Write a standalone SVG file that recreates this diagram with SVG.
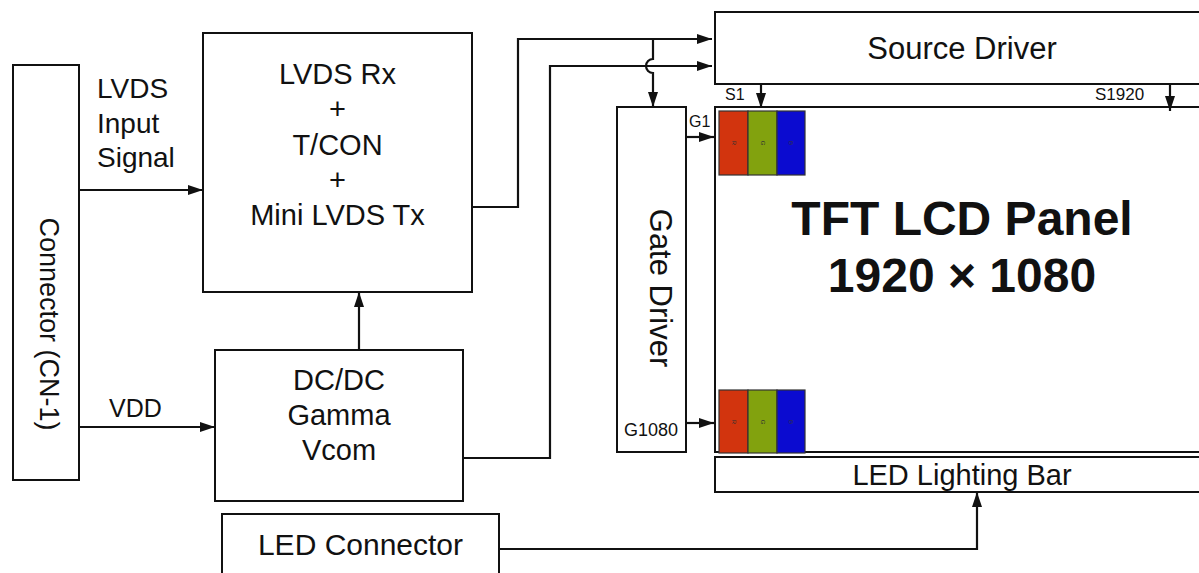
<svg xmlns="http://www.w3.org/2000/svg" width="1199" height="573" viewBox="0 0 1199 573">
<style>
.box{fill:#fff;stroke:#111;stroke-width:2}
.ln{fill:none;stroke:#111;stroke-width:2.2}
.t{font-family:"Liberation Sans",Arial,sans-serif;fill:#111}
.c{text-anchor:middle}
.px{stroke:#333;stroke-width:1.2}
.pt{font-family:"Liberation Sans",Arial,sans-serif;font-size:6px;fill:#333;text-anchor:middle}
</style>
<defs>
<marker id="ah" markerUnits="userSpaceOnUse" markerWidth="15" markerHeight="10" refX="15" refY="5" orient="auto">
<path d="M0,0 L15,5 L0,10 z" fill="#111"/>
</marker>
</defs>
<rect width="1199" height="573" fill="#fff"/>

<g id="connector">
<rect class="box" x="13" y="65" width="66" height="415"/>
<text class="t c" font-size="27" transform="translate(40,324) rotate(90)">Connector (CN-1)</text>
</g>

<g id="lvds-rx">
<rect class="box" x="203" y="33" width="269" height="259"/>
<text class="t c" font-size="29" x="337.5" y="84">LVDS Rx</text>
<text class="t c" font-size="29" x="337.5" y="119.3">+</text>
<text class="t c" font-size="29" x="337.5" y="154.5">T/CON</text>
<text class="t c" font-size="29" x="337.5" y="189.8">+</text>
<text class="t c" font-size="29" x="337.5" y="225">Mini LVDS Tx</text>
</g>

<g id="dcdc">
<rect class="box" x="215" y="350" width="248" height="151"/>
<text class="t c" font-size="29" x="339" y="390">DC/DC</text>
<text class="t c" font-size="29" x="339" y="425">Gamma</text>
<text class="t c" font-size="29" x="339" y="460">Vcom</text>
</g>

<g id="led-connector">
<rect class="box" x="222" y="514" width="277" height="80"/>
<text class="t c" font-size="30" x="360.5" y="555">LED Connector</text>
</g>

<g id="source-driver">
<rect class="box" x="715" y="12" width="500" height="72"/>
<text class="t c" font-size="31" x="962" y="59">Source Driver</text>
</g>

<g id="gate-driver">
<rect class="box" x="617" y="107" width="69" height="345"/>
<text class="t c" font-size="31" transform="translate(650,288) rotate(90)">Gate Driver</text>
</g>

<g id="panel">
<rect class="box" x="715" y="107" width="500" height="345"/>
<text class="t c" font-size="48" font-weight="bold" x="962" y="235">TFT LCD Panel</text>
<text class="t c" font-size="48" font-weight="bold" x="962" y="292">1920 × 1080</text>
<g id="pixels-top">
<rect class="px" x="719" y="111" width="29" height="64" fill="#d2340e"/>
<rect class="px" x="748" y="111" width="29" height="64" fill="#82a20e"/>
<rect class="px" x="777" y="111" width="28" height="64" fill="#0b0bd0"/>
<text class="pt" transform="translate(732,143) rotate(90)">R</text>
<text class="pt" transform="translate(761,143) rotate(90)">G</text>
<text class="pt" transform="translate(789,143) rotate(90)">B</text>
</g>
<g id="pixels-bottom">
<rect class="px" x="719" y="390" width="29" height="63" fill="#d2340e"/>
<rect class="px" x="748" y="390" width="29" height="63" fill="#82a20e"/>
<rect class="px" x="777" y="390" width="28" height="63" fill="#0b0bd0"/>
<text class="pt" transform="translate(732,422) rotate(90)">R</text>
<text class="pt" transform="translate(761,422) rotate(90)">G</text>
<text class="pt" transform="translate(789,422) rotate(90)">B</text>
</g>
</g>

<g id="led-bar">
<rect class="box" x="715" y="457" width="500" height="35"/>
<text class="t c" font-size="29" x="962" y="485">LED Lighting Bar</text>
</g>

<g id="connectors">
<path class="ln" d="M79,190 H203" marker-end="url(#ah)"/>
<path class="ln" d="M79,427 H215" marker-end="url(#ah)"/>
<path class="ln" d="M359,350 V292" marker-end="url(#ah)"/>
<path class="ln" d="M472,207 H518 V39 H712" marker-end="url(#ah)"/>
<path class="ln" d="M463,458 H550 V66 H712" marker-end="url(#ah)"/>
<path class="ln" d="M653,39 V59 A7,7 0 0 0 653,73 V107" marker-end="url(#ah)"/>
<path class="ln" d="M686,137 H714" marker-end="url(#ah)"/>
<path class="ln" d="M686,423 H714" marker-end="url(#ah)"/>
<path class="ln" d="M761,84 V108" marker-end="url(#ah)"/>
<path class="ln" d="M1170,84 V111" marker-end="url(#ah)"/>
<path class="ln" d="M499,549 H977 V492" marker-end="url(#ah)"/>
</g>

<g id="labels">
<text class="t" font-size="28" x="97" y="98">LVDS</text>
<text class="t" font-size="28" x="97" y="132.5">Input</text>
<text class="t" font-size="28" x="97" y="167">Signal</text>
<text class="t" font-size="25" x="109" y="417">VDD</text>
<text class="t" font-size="16" x="725" y="100">S1</text>
<text class="t" font-size="17" x="1095" y="100">S1920</text>
<text class="t" font-size="16" x="689" y="127">G1</text>
<text class="t" font-size="18" x="624" y="436">G1080</text>
</g>
</svg>
